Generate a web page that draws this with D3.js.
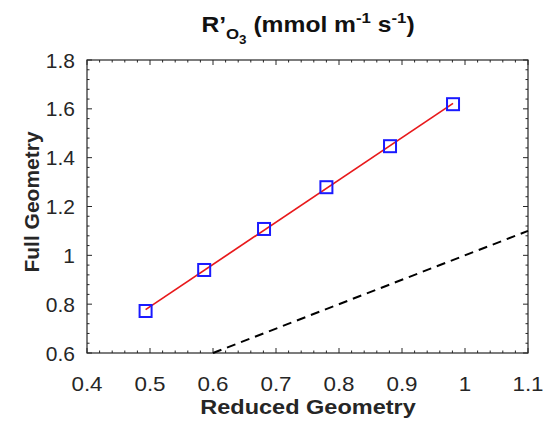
<!DOCTYPE html>
<html><head><meta charset="utf-8">
<script src="https://cdn.jsdelivr.net/npm/d3@7"></script>
<style>body{margin:0;background:#fff;} text{font-family:Arial,"Liberation Sans",sans-serif;}</style>
</head><body>
<svg id="c" width="550" height="425"></svg>
<script>
const reducedGeom = [0.493, 0.586, 0.681, 0.780, 0.881, 0.981];
const fullGeom = [0.772, 0.940, 1.108, 1.279, 1.447, 1.619];
const oneToOne = [0.6, 1.1];
const xTicks = [0.4, 0.5, 0.6, 0.7, 0.8, 0.9, 1, 1.1];
const yTicks = [0.6, 0.8, 1, 1.2, 1.4, 1.6, 1.8];

const svg = d3.select("#c");
const m = {l: 87, r: 528, t: 60, b: 353};
const x = d3.scaleLinear().domain([0.4, 1.1]).range([m.l, m.r]);
const y = d3.scaleLinear().domain([0.6, 1.8]).range([m.b, m.t]);
const axCol = "#262626";
const SX = 1.12;

const g = svg.append("g");
g.append("rect").attr("x", m.l).attr("y", m.t).attr("width", m.r - m.l).attr("height", m.b - m.t)
  .attr("fill", "#fff").attr("stroke", axCol).attr("stroke-width", 1.2);

const xMinor = d3.range(0.4, 1.1001, 0.02);
const yMinor = d3.range(0.6, 1.8001, 0.04);
const isMajor = (v, arr) => arr.some(t => Math.abs(t - v) < 1e-6);

xMinor.forEach(v => {
  const len = isMajor(v, xTicks) ? 5 : 2.5;
  g.append("line").attr("x1", x(v)).attr("x2", x(v)).attr("y1", m.b).attr("y2", m.b - len).attr("stroke", axCol);
  g.append("line").attr("x1", x(v)).attr("x2", x(v)).attr("y1", m.t).attr("y2", m.t + len).attr("stroke", axCol);
});
yMinor.forEach(v => {
  const len = isMajor(v, yTicks) ? 5 : 2.5;
  g.append("line").attr("y1", y(v)).attr("y2", y(v)).attr("x1", m.l).attr("x2", m.l + len).attr("stroke", axCol);
  g.append("line").attr("y1", y(v)).attr("y2", y(v)).attr("x1", m.r).attr("x2", m.r - len).attr("stroke", axCol);
});

g.selectAll(".xt").data(xTicks).enter().append("text")
  .attr("transform", d => `translate(${x(d)},391) scale(${SX},1)`).attr("text-anchor", "middle")
  .attr("font-size", 20).attr("fill", axCol).text(d => d3.format("")(d));
g.selectAll(".yt").data(yTicks).enter().append("text")
  .attr("transform", d => `translate(75,${y(d) + 7.5}) scale(1.05,1)`).attr("text-anchor", "end")
  .attr("font-size", 20).attr("fill", axCol).text(d => d3.format("")(d));

svg.append("text").attr("transform", `translate(308,414) scale(${SX},1)`).attr("text-anchor", "middle")
  .attr("font-size", 21).attr("font-weight", "bold").attr("fill", axCol).text("Reduced Geometry");
svg.append("text").attr("transform", "translate(39,202) rotate(-90)").attr("text-anchor", "middle")
  .attr("font-size", 21).attr("font-weight", "bold").attr("fill", axCol).text("Full Geometry");

// 1:1 dashed line
g.append("line").attr("x1", x(oneToOne[0])).attr("y1", y(oneToOne[0]))
  .attr("x2", x(oneToOne[1])).attr("y2", y(oneToOne[1]))
  .attr("stroke", "#000").attr("stroke-width", 2).attr("stroke-dasharray", "9,6");

// linear fit
const mx = d3.mean(reducedGeom), my = d3.mean(fullGeom);
const slope = d3.sum(reducedGeom.map((v, i) => (v - mx) * (fullGeom[i] - my))) / d3.sum(reducedGeom.map(v => (v - mx) ** 2));
const icpt = my - slope * mx;
const x0 = d3.min(reducedGeom), x1 = d3.max(reducedGeom);
g.append("line").attr("x1", x(x0)).attr("y1", y(icpt + slope * x0))
  .attr("x2", x(x1)).attr("y2", y(icpt + slope * x1))
  .attr("stroke", "#e8191b").attr("stroke-width", 1.7);

const s = 12;
g.selectAll(".pt").data(reducedGeom).enter().append("rect")
  .attr("x", d => x(d) - s / 2).attr("y", (d, i) => y(fullGeom[i]) - s / 2)
  .attr("width", s).attr("height", s).attr("fill", "none")
  .attr("stroke", "#1a1aff").attr("stroke-width", 2);

// title
const t = svg.append("text").attr("transform", `translate(308,32) scale(${SX},1)`).attr("text-anchor", "middle")
  .attr("font-size", 22).attr("font-weight", "bold").attr("fill", "#111");
t.append("tspan").text("R’");
t.append("tspan").attr("font-size", 15).attr("dy", 7).text("O");
t.append("tspan").attr("font-size", 12).attr("dy", 5).text("3");
t.append("tspan").attr("dy", -12).text(" (mmol m");
t.append("tspan").attr("font-size", 15).attr("dy", -9).text("-1");
t.append("tspan").attr("dy", 9).text(" s");
t.append("tspan").attr("font-size", 15).attr("dy", -9).text("-1");
t.append("tspan").attr("dy", 9).text(")");
</script>
</body></html>
